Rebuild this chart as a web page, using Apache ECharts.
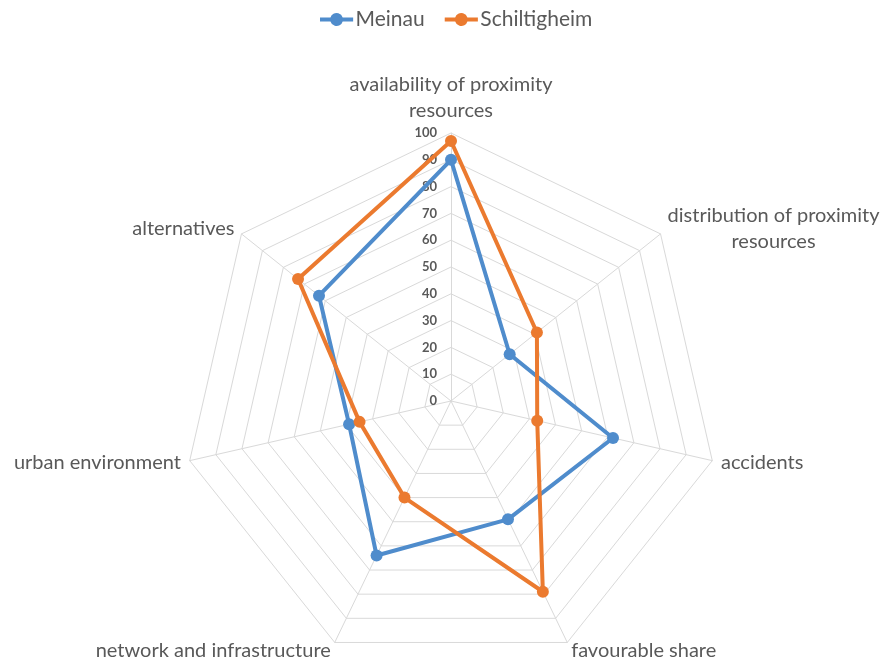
<!DOCTYPE html>
<html>
<head>
<meta charset="utf-8">
<script src="https://cdn.jsdelivr.net/npm/echarts@6/dist/echarts.min.js"></script>
<style>html,body{margin:0;padding:0;background:#fff}#c{width:893px;height:661px}</style>
</head>
<body>
<div id="c"></div>
<script>
// clockwise order starting from the top
const indicators = ['availability of proximity\nresources','distribution of proximity\nresources','accidents','favourable share','network and infrastructure','urban environment','alternatives'];
const meinau = [90, 28, 62, 49, 64, 39, 63];
const schiltigheim = [97, 41, 33, 79, 40, 35, 73];
const seriesNames = ['Meinau','Schiltigheim'];
const tickMin = 0, tickMax = 100, tickStep = 10;

// ECharts radar runs counter-clockwise: reorder so the picture reads clockwise
const ccw = arr => [arr[0]].concat(arr.slice(1).reverse());

const FONT = 'Lato, sans-serif';
const center = [451, 401];
const radius = 268;
const legendIcon = 'path://M0,3.5 H8.2 A5,5 0 0 1 17.8,3.5 H26 V6.5 H17.8 A5,5 0 0 1 8.2,6.5 H0 Z';

const chart = echarts.init(document.getElementById('c'));
chart.setOption({
  backgroundColor: '#fff',
  animation: false,
  color: ['#4f8ccc', '#eb7a2f'],
  legend: {
    top: 4, left: 315,
    data: seriesNames.map(n => ({name: n, icon: legendIcon})),
    itemWidth: 36, itemHeight: 13, itemGap: 20,
    textStyle: {fontFamily: FONT, fontSize: 21, color: '#595959', padding: [0,0,0,-4]}
  },
  radar: {
    center: center, radius: radius, startAngle: 90, shape: 'polygon',
    splitNumber: 10,
    nameGap: 9,
    indicator: ccw(indicators).map(n => ({name: n, min: tickMin, max: tickMax})),
    axisName: {
      color: '#595959', fontFamily: FONT, fontSize: 20, lineHeight: 26,
      formatter: v => v.split('\n').map(s => '{c|' + s + '}').join('\n'),
      rich: {c: {align: 'center', color: '#595959', fontFamily: FONT, fontSize: 20, lineHeight: 26}}
    },
    axisLine: {lineStyle: {color: '#d9d9d9', width: 1}},
    splitLine: {lineStyle: {color: '#d9d9d9', width: 1}},
    splitArea: {show: false},
    axisTick: {show: false},
    axisLabel: {show: false}
  },
  polar: {center: center, radius: radius},
  angleAxis: {type: 'value', startAngle: 90, min: 0, max: 360, show: false},
  radiusAxis: {
    type: 'value', min: tickMin, max: tickMax, interval: tickStep,
    axisLine: {show: false}, axisTick: {show: false}, splitLine: {show: false},
    axisLabel: {show: true, color: '#595959', fontFamily: FONT, fontSize: 13, fontWeight: 'bold', margin: 14}
  },
  series: [
    {
      type: 'radar', name: seriesNames[0],
      symbol: 'circle', symbolSize: 12,
      lineStyle: {width: 4},
      data: [{value: ccw(meinau), name: seriesNames[0]}]
    },
    {
      type: 'radar', name: seriesNames[1],
      symbol: 'circle', symbolSize: 12,
      lineStyle: {width: 4},
      data: [{value: ccw(schiltigheim), name: seriesNames[1]}]
    }
  ]
});
</script>
</body>
</html>
